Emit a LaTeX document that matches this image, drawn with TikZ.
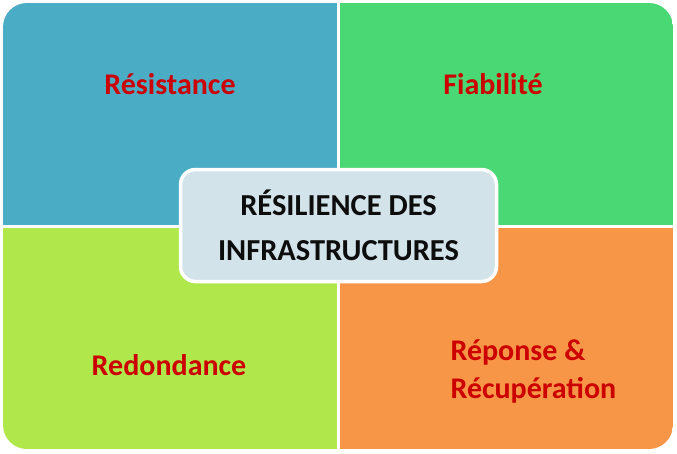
\documentclass[tikz,border=0pt]{standalone}
\usepackage{fontspec}
\setmainfont{Carlito}
\definecolor{quadteal}{HTML}{4BACC6}
\definecolor{quadgreen}{HTML}{4AD874}
\definecolor{quadlime}{HTML}{B0E84C}
\definecolor{quadorange}{HTML}{F79646}
\definecolor{centerfill}{HTML}{D3E3EA}
\definecolor{labelred}{HTML}{CC0000}
\tikzset{
  quadlabel/.style={text=labelred, font=\bfseries\fontsize{30}{38}\selectfont},
  centerbox/.style={draw=white, line width=3.5pt, fill=centerfill, rounded corners=15pt,
    minimum width=316pt, minimum height=112pt, align=center,
    font=\bfseries\fontsize{30.5}{45}\selectfont, text=black!95}
}
\begin{document}
\begin{tikzpicture}[x=1pt, y=-1pt]
    \useasboundingbox (0,0) rectangle (677,453);

    % Four quadrants, outer corners rounded
    \begin{scope}
        \clip[rounded corners=24pt] (3,3) rectangle (673,449);
        \fill[quadteal]   (3,3)     rectangle (337,224.5);
        \fill[quadgreen]  (340,3)   rectangle (673,224.5);
        \fill[quadlime]   (3,228)   rectangle (337,449);
        \fill[quadorange] (340,228) rectangle (673,449);
    \end{scope}

    % Quadrant labels
    \node[quadlabel] (resistance) at (170,84) {Résistance};
    \node[quadlabel] (fiabilite)  at (493,84) {Fiabilité};
    \node[quadlabel] (redondance) at (169,365) {Redondance};
    \node[quadlabel, align=left, anchor=west] (reponse) at (447,371) {Réponse \&\\Récupération};

    % Central box
    \node[centerbox] (resilience) at (338.5,225.5) {RÉSILIENCE DES\\INFRASTRUCTURES};
\end{tikzpicture}
\end{document}
